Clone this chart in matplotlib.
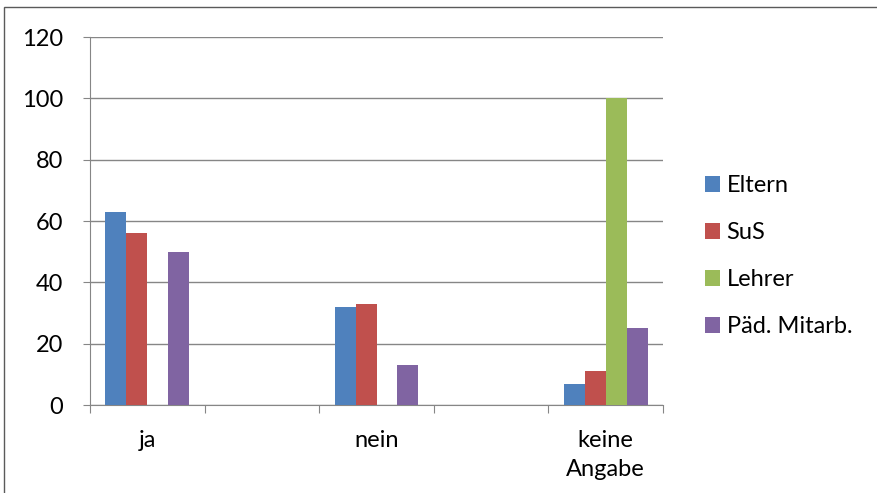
import matplotlib
matplotlib.use("Agg")
import matplotlib.pyplot as plt
import numpy as np
from matplotlib.patches import Rectangle

categories = ["ja", "", "nein", "", "keine\nAngabe"]
series_names = ["Eltern", "SuS", "Lehrer", "Päd. Mitarb."]
eltern = [63, 0, 32, 0, 7]
sus = [56, 0, 33, 0, 11]
lehrer = [0, 0, 0, 0, 100]
paed = [50, 0, 13, 0, 25]
colors = ["#4F81BD", "#C0504D", "#9BBB59", "#8064A2"]
yticks = [0, 20, 40, 60, 80, 100, 120]

plt.rcParams['font.family'] = ['Lato', 'DejaVu Sans']

fig = plt.figure(figsize=(8.77, 4.93), dpi=100)
ax = fig.add_axes([90/877, 88/493, 573/877, 368/493])

# outer chart frame
fig.patches.append(Rectangle((4/877, -0.01), 1.0, (493-7)/493 + 0.01,
                             transform=fig.transFigure, fill=False,
                             edgecolor="#5a5a5a", linewidth=1.0))

x = np.arange(len(categories))
bw = 0.183
data = [eltern, sus, lehrer, paed]
for i, (vals, c, name) in enumerate(zip(data, colors, series_names)):
    ax.bar(x + (i - 1.5) * bw, vals, width=bw, color=c, label=name, zorder=3)

ax.set_xlim(-0.5, len(categories) - 0.5)
ax.set_ylim(0, 120)
ax.set_yticks(yticks)
ax.set_yticklabels([str(v) for v in yticks], fontsize=17)
ax.yaxis.grid(True, color="#868686", linewidth=1.0, zorder=0)
ax.set_axisbelow(True)

for s in ["top", "right"]:
    ax.spines[s].set_visible(False)
ax.spines["left"].set_color("#868686")
ax.spines["bottom"].set_color("#868686")

ax.tick_params(axis="y", length=5, color="#868686", pad=14.5)
ax.set_xticks(np.arange(-0.5, len(categories), 1.0))
ax.set_xticklabels([])
ax.tick_params(axis="x", which="major", length=6, color="#868686", direction="out")
ax.set_xticks(x, minor=True)
ax.set_xticklabels(categories, minor=True, fontsize=17)
ax.tick_params(axis="x", which="minor", length=0, pad=18)
for lbl in ax.get_xticklabels(minor=True):
    lbl.set_linespacing(1.5)

leg = fig.legend(loc="upper left", bbox_to_anchor=(683.5/877, 1 - 154/493),
                 frameon=False, fontsize=17, handlelength=0.63, handleheight=0.63,
                 handletextpad=0.3, labelspacing=1.1)

fig.savefig("out.png", dpi=100)
